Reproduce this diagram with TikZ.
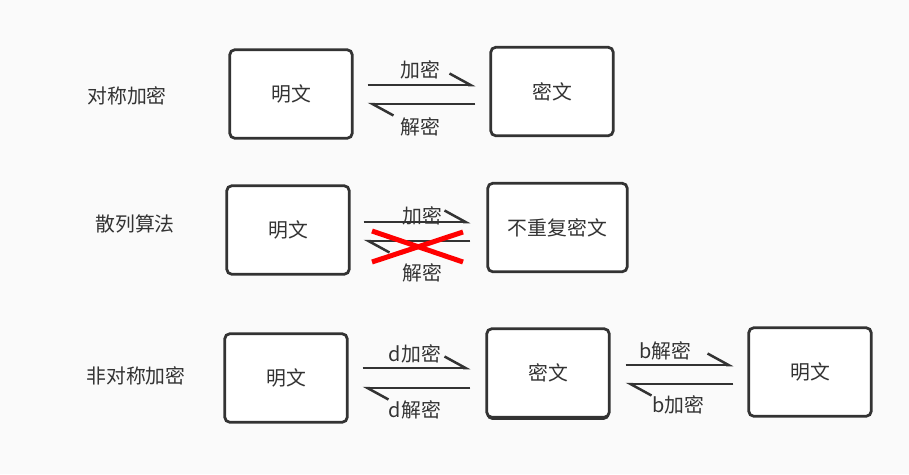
\documentclass[tikz,border=0pt]{standalone}
\usepackage{fontspec}
\setmainfont{Noto Sans CJK SC}
\usetikzlibrary{arrows.meta,shadows}
\definecolor{ink}{HTML}{333333}
\definecolor{paper}{HTML}{FAFAFA}
\tikzset{
  box/.style={draw=ink, fill=white, line width=0.055cm, rounded corners=0.1cm,
    minimum width=2.45cm, minimum height=1.77cm, text=ink},
  harp/.style={draw=ink, line width=0.05cm,
    -{Straight Barb[harpoon,length=0.42cm,width=0.46cm]}},
  tag/.style={text=ink, inner sep=0pt},
  cross/.style={draw=red, line width=0.1cm}
}
\begin{document}
\begin{tikzpicture}[x=0.02cm,y=-0.02cm,font=\fontsize{11.3pt}{13.6pt}\selectfont]
\fill[paper] (0,0) rectangle (909,474);

\node[tag] (t1) at (127,96) {对称加密};
\node[box] (m1) at (291,94) {明文};
\node[box] (c1) at (552,91.5) {密文};
\draw[harp, shorten <=0.28cm, shorten >=0.28cm] (m1.east |- 0,85) -- (c1.west |- 0,85);
\draw[harp, shorten <=0.28cm, shorten >=0.28cm] (c1.west |- 0,104) -- (m1.east |- 0,104);
\node[tag] (e1) at (420,70) {加密};
\node[tag] (d1) at (420,127) {解密};

\node[tag] (t2) at (135,224) {散列算法};
\node[box] (m2) at (288,230) {明文};
\node[box, minimum width=2.79cm] (c2) at (557.5,227.5) {不重复密文};
\node[tag] (e2) at (422,216) {加密};
\node[tag] (d2) at (422,273) {解密};
\draw[harp, shorten <=0.26cm, shorten >=0.32cm] (m2.east |- 0,222) -- (c2.west |- 0,222);
\draw[harp, shorten <=0.32cm, shorten >=0.26cm] (c2.west |- 0,241) -- (m2.east |- 0,241);
\draw[cross] (372,231) -- (463,262);
\draw[cross] (372,262) -- (463,232);

\node[tag] (t3) at (136,376) {非对称加密};
\node[box] (m3) at (286,378) {明文};
\node[box, drop shadow={shadow xshift=0cm, shadow yshift=-0.05cm, opacity=1, fill=ink}] (c3) at (548,373) {密文};
\node[box] (p3) at (810,372) {明文};
\draw[harp, shorten <=0.28cm, shorten >=0.3cm] (m3.east |- 0,368) -- (c3.west |- 0,368);
\draw[harp, shorten <=0.3cm, shorten >=0.28cm] (c3.west |- 0,388) -- (m3.east |- 0,388);
\node[tag] (e3) at (415,354) {d加密};
\node[tag] (d3) at (415,410) {d解密};
\draw[harp, shorten <=0.3cm, shorten >=0.28cm] (c3.east |- 0,365) -- (p3.west |- 0,365);
\draw[harp, shorten <=0.28cm, shorten >=0.3cm] (p3.west |- 0,384) -- (c3.east |- 0,384);
\node[tag] (e4) at (665,351) {b解密};
\node[tag] (d4) at (678,405) {b加密};
\end{tikzpicture}
\end{document}
